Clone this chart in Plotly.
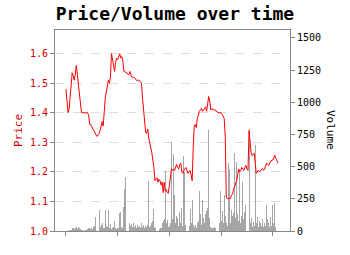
import plotly.graph_objects as go

price = [
    1.48, 1.44, 1.40, 1.41, 1.45, 1.48, 1.535, 1.525, 1.51, 1.53,
    1.56, 1.53, 1.50, 1.47, 1.42, 1.40, 1.40, 1.40, 1.40, 1.40,
    1.40, 1.40, 1.39, 1.36, 1.36, 1.35, 1.345, 1.34, 1.33, 1.325,
    1.32, 1.325, 1.33, 1.34, 1.36, 1.37, 1.355, 1.41, 1.45, 1.47,
    1.49, 1.51, 1.50, 1.52, 1.60, 1.58, 1.55, 1.54, 1.57, 1.585,
    1.58, 1.595, 1.60, 1.585, 1.59, 1.575, 1.54, 1.54, 1.535, 1.535,
    1.53, 1.53, 1.54, 1.525, 1.52, 1.52, 1.52, 1.515, 1.51, 1.51,
    1.51, 1.51, 1.505, 1.50, 1.45, 1.40, 1.38, 1.335, 1.33, 1.345,
    1.315, 1.30, 1.28, 1.265, 1.24, 1.215, 1.17, 1.175, 1.18, 1.165,
    1.175, 1.17, 1.155, 1.165, 1.13, 1.165, 1.135, 1.14, 1.13, 1.128,
    1.16, 1.20, 1.21, 1.205, 1.21, 1.205, 1.215, 1.225, 1.215, 1.21,
    1.225, 1.23, 1.20, 1.195, 1.205, 1.21, 1.215, 1.205, 1.195, 1.20,
    1.205, 1.19, 1.17, 1.28, 1.355, 1.36, 1.35, 1.38, 1.395, 1.405,
    1.41, 1.415, 1.405, 1.41, 1.415, 1.42, 1.405, 1.43, 1.455, 1.44,
    1.41, 1.415, 1.41, 1.41, 1.41, 1.405, 1.405, 1.40, 1.40, 1.40,
    1.40, 1.395, 1.385, 1.38, 1.32, 1.115, 1.11, 1.11, 1.108, 1.11,
    1.12, 1.125, 1.14, 1.15, 1.165, 1.17, 1.19, 1.21, 1.20, 1.205,
    1.215, 1.21, 1.205, 1.215, 1.222, 1.21, 1.205, 1.34, 1.285, 1.265,
    1.255, 1.26, 1.263, 1.23, 1.195, 1.20, 1.205, 1.20, 1.205, 1.21,
    1.212, 1.205, 1.21, 1.22, 1.23, 1.225, 1.222, 1.23, 1.235, 1.24,
    1.24, 1.25, 1.256, 1.245, 1.235, 1.229,
]

volume = [
    5, 0, 8, 3, 6, 10, 20, 25, 18, 22,
    30, 15, 28, 20, 12, 5, 8, 3, 10, 6,
    4, 15, 20, 25, 18, 22, 12, 30, 40, 110,
    60, 45, 160, 30, 45, 60, 20, 25, 165, 40,
    30, 160, 20, 55, 15, 20, 30, 75, 20, 15,
    20, 25, 140, 150, 30, 20, 190, 330, 420, 430,
    420, 60, 40, 55, 35, 60, 30, 45, 25, 50,
    30, 40, 20, 60, 30, 45, 25, 40, 30, 50,
    390, 30, 40, 60, 80, 170, 30, 25, 20, 30,
    15, 20, 25, 60, 80, 90, 470, 60, 85, 30,
    40, 60, 690, 90, 600, 280, 60, 120, 100, 40,
    150, 60, 180, 40, 580, 460, 50, 130, 120, 40,
    170, 60, 240, 50, 30, 45, 20, 60, 80, 310,
    130, 50, 240, 100, 60, 130, 155, 180, 785, 100,
    30, 20, 25, 20, 30, 25, 20, 40, 60, 310,
    80, 155, 60, 280, 120, 60, 40, 528, 480, 60,
    160, 120, 140, 610, 100, 540, 130, 80, 475, 60,
    120, 380, 90, 150, 200, 40, 80, 795, 60, 100,
    30, 70, 40, 668, 60, 110, 30, 80, 60, 40,
    90, 30, 60, 40, 200, 90, 60, 30, 110, 40,
    200, 60, 218, 30, 20, 10,
]

days = list(range(len(price)))
x_ticks = [0, 50, 100, 150, 200]
price_ticks = [1.0, 1.1, 1.2, 1.3, 1.4, 1.5, 1.6]
volume_ticks = [0, 250, 500, 750, 1000, 1250, 1500]

FONT = "DejaVu Sans Mono"
RED = "#d40000"

fig = go.Figure()
fig.add_trace(go.Bar(
    x=days, y=volume, yaxis="y", marker=dict(color="rgba(128,128,128,0.7)", line=dict(width=0)),
    width=0.9, showlegend=False,
))
fig.add_trace(go.Scatter(
    x=days, y=price, yaxis="y2", mode="lines",
    line=dict(color="#ff0000", width=1), showlegend=False,
))

fig.update_layout(
    width=350, height=255,
    margin=dict(l=55, r=60, t=30, b=24),
    paper_bgcolor="white", plot_bgcolor="white",
    font=dict(family=FONT, size=10, color="black"),
    title=dict(text="<b>Price/Volume over time</b>", x=0.5, xanchor="center",
               y=0.945, yanchor="middle", font=dict(family=FONT, size=18, color="black")),
    bargap=0,
    xaxis=dict(range=[-10.6, 216.6], tickvals=x_ticks, ticktext=["", "", "", "", ""],
               ticks="outside", ticklen=4, tickcolor="#888", showgrid=False, zeroline=False,
               showline=True, linecolor="#888", linewidth=1, mirror=True),
    yaxis=dict(side="right", range=[0, 1562], tickvals=volume_ticks, ticks="outside",
               ticklen=4, tickcolor="#888", showgrid=False, zeroline=False,
               showline=True, linecolor="#888", linewidth=1,
               tickfont=dict(family=FONT, size=10, color="black")),
    yaxis2=dict(side="left", overlaying="y", range=[1.0, 1.68], tickvals=price_ticks,
                tickformat=".1f", ticks="outside", ticklen=4, tickcolor="#888",
                showgrid=True, gridcolor="#dddddd", griddash="dash", gridwidth=1,
                zeroline=False, showline=True, linecolor="#888", linewidth=1,
                tickfont=dict(family=FONT, size=10, color=RED),
                title=dict(text="Price", font=dict(family=FONT, size=11, color=RED), standoff=5)),
    annotations=[dict(text="Volume", textangle=90,
                      x=(331 - 55) / 235, y=(231 - 130) / 201, xref="paper", yref="paper",
                      xanchor="center", yanchor="middle", showarrow=False,
                      font=dict(family=FONT, size=11, color="black"))],
)

fig.write_html("out.html")
